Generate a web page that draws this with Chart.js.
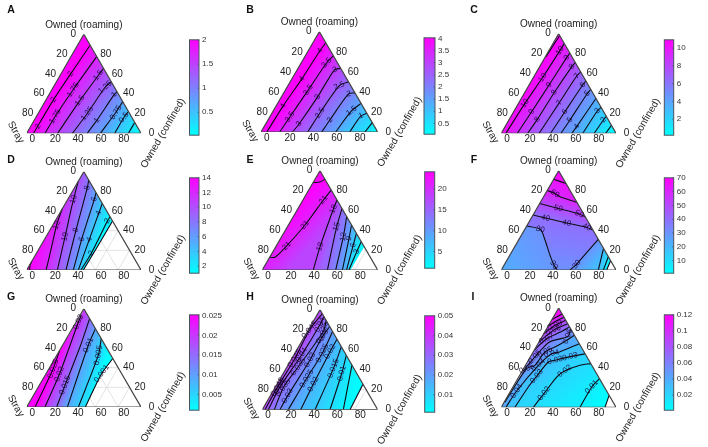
<!DOCTYPE html>
<html>
<head>
<meta charset="utf-8">
<script src="https://cdn.jsdelivr.net/npm/chart.js@4"></script>
<style>
html, body { margin: 0; padding: 0; background: #fff; width: 708px; height: 447px; overflow: hidden; }
#figure { position: relative; width: 708px; height: 447px; overflow: hidden; }
#figure canvas { position: absolute; }
</style>
</head>
<body>
<div id="figure"></div>
<script>
// every contour point is [owned confined, owned roaming] in percent, stray is what is left
const axisTicks = [0, 20, 40, 60, 80];

const levelsA = [2, 1.75, 1.5, 1.25, 1, 0.75, 0.5, 0.25];
const contoursA = [
  [[6, 0], [6.5, 34], [8.5, 60], [11, 89]],
  [[16, 0], [16.4, 17], [18.6, 44], [22.5, 77.5]],
  [[27, 0], [30, 33], [33.4, 58.6], [34.4, 65.6]],
  [[40, 0], [43, 20], [45.3, 46.5], [48, 52]],
  [[53, 0], [54.8, 13], [57, 39], [58, 42]],
  [[64.5, 0], [67.4, 21], [68, 32]],
  [[77, 0], [77, 16], [78, 22]],
  [[89, 0], [89, 11]]
];
const labelsA = [[0, 6.3, 7], [0, 6.5, 34], [0, 8.5, 60], [1, 16.4, 17], [1, 18.6, 44], [2, 30, 33], [2, 33.4, 58.6],
  [3, 43, 20], [3, 45.3, 46.5], [4, 54.8, 13], [4, 57, 39], [5, 67.4, 21], [6, 77, 16]];
const rangeA = [0.02, 2.01];
const colorTicksA = [0.5, 1, 1.5, 2];

const levelsB = [4, 3.5, 3, 2.5, 2, 1.5, 1, 0.5];
const contoursB = [
  [[5, 0], [6, 26], [8.5, 53], [10, 81], [11, 89]],
  [[16, 0], [17.2, 15], [19.6, 42], [21.8, 69], [24, 76]],
  [[27, 0], [28.6, 8], [31, 35], [32, 62], [36.5, 63.5]],
  [[40, 0], [41, 19], [44, 46], [50, 50]],
  [[52, 0], [53, 12], [56, 38], [61, 39]],
  [[64, 0], [67, 21], [71.5, 28.5]],
  [[76, 0], [77.6, 16], [81.4, 18.6]],
  [[89, 0], [90.7, 9.3]]
];
const labelsB = [[0, 6, 26], [0, 8.5, 53], [0, 10, 81], [1, 17.2, 15], [1, 19.6, 42], [1, 21.8, 69], [2, 28.6, 8], [2, 31, 35], [2, 32, 62],
  [3, 41, 19], [3, 44, 46], [4, 53, 12], [4, 56, 38], [5, 67, 21], [6, 77.6, 16]];
const rangeB = [0.05, 4.03];
const colorTicksB = [0.5, 1, 1.5, 2, 2.5, 3, 3.5, 4];

const levelsC = [11, 10, 9, 8, 7, 6, 5, 4, 3, 2, 1];
const contoursC = [
  [[0.5, 77], [1.8, 97.7]],
  [[4, 0], [5.6, 30], [8, 56], [9.6, 83], [9.8, 90]],
  [[14, 0], [15.6, 21.7], [17.4, 48.5], [19, 76], [19.5, 80.5]],
  [[23, 0], [24.4, 14], [25.7, 41], [28, 67], [29, 71]],
  [[33, 0], [35.2, 30.8], [37, 57.5], [38.5, 61.5]],
  [[43, 0], [44.6, 21.7], [46.7, 48.5], [47.5, 52.5]],
  [[52, 0], [53.2, 13.4], [55, 40], [56, 44]],
  [[61.5, 0], [62.4, 6.7], [65, 35]],
  [[71, 0], [72.5, 22.4], [74, 26]],
  [[81, 0], [82.3, 13.4], [83, 17]],
  [[91, 0], [92, 8]]
];
const labelsC = [[1, 5.6, 30], [1, 8, 56], [1, 9.6, 83], [2, 15.6, 21.7], [2, 17.4, 48.5], [2, 19, 76], [3, 24.4, 14], [3, 25.7, 41], [3, 28, 67],
  [4, 35.2, 30.8], [4, 37, 57.5], [5, 44.6, 21.7], [5, 46.7, 48.5], [6, 53.2, 13.4], [6, 55, 40], [7, 62.4, 6.7], [8, 72.5, 22.4], [9, 82.3, 13.4]];
const rangeC = [0.17, 10.95];
const colorTicksC = [2, 4, 6, 8, 10];

const levelsD = [14, 12, 10, 8, 6, 4, 2, 1.03];
const contoursD = [
  [[2.5, 0], [0.5, 5], [0, 9]],
  [[17, 0], [10, 23.7], [3.3, 45.8], [0, 62]],
  [[26.8, 0], [16.6, 33.9], [7.2, 64.4], [0, 90]],
  [[34.4, 0], [22.8, 40.7], [11.2, 83.7], [8.5, 91.5]],
  [[40.8, 0], [32.5, 31.2], [23.2, 71.9], [21.4, 78.6]],
  [[45.2, 0], [39.2, 31.2], [32.2, 67.8]],
  [[47.5, 0], [48, 17], [45.7, 49.8], [45.8, 54.2]],
  [[49.6, 0], [50, 25], [50.2, 49.8]]
];
const labelsD = [[1, 3.3, 45.8], [2, 16.6, 33.9], [2, 5, 72], [3, 22.8, 40.7], [3, 11.2, 83.7], [4, 32.5, 31.2], [4, 23.2, 71.9],
  [5, 39.2, 31.2], [5, 34, 58], [6, 48, 17], [6, 45.7, 49.8]];
const rangeD = [1.03, 14];
const colorTicksD = [2, 4, 6, 8, 10, 12, 14];

const levelsE = [24, 21, 18, 15, 12, 9, 6, 3];
const contoursE = [
  [[0, 88], [5.7, 88.6], [8.7, 91.3]],
  [[0, 12.8], [4.6, 12.8], [9, 24.2], [14.3, 45.3], [17.7, 70.5], [19.5, 80.5]],
  [[44.2, 0], [38.3, 23.5], [30.9, 61.4], [29.5, 70.5]],
  [[56.4, 0], [42.7, 43.6], [38.1, 61.9]],
  [[63.6, 0], [53.4, 33.6], [46.3, 53.7]],
  [[69.4, 0], [59.2, 31.9], [54.7, 45.3]],
  [[73, 0], [66.3, 25], [63.1, 36.9]],
  [[75.1, 0], [72.6, 18.5], [71.5, 28.5]]
];
const labelsE = [[1, 9, 24.2], [1, 14.3, 45.3], [1, 17.7, 70.5], [2, 38.3, 23.5], [2, 30.9, 61.4], [3, 42.7, 43.6], [4, 53.4, 33.6],
  [5, 59.2, 31.9], [6, 66.3, 25], [7, 72.6, 18.5]];
const edgeE = [[76.5, 0], [76.5, 23.5]];
const rangeE = [1.06, 24.1];
const colorTicksE = [5, 10, 15, 20];

const levelsF = [65, 60, 50, 40, 30, 30, 20, 10, 0.9];
const contoursF = [
  [[0, 91.3], [12.8, 87.2]],
  [[0, 80], [8.3, 77], [14.3, 73.8], [31.9, 68.1]],
  [[0, 67], [18.7, 62], [39.8, 56.4], [46.3, 53.7]],
  [[0, 55.4], [12.5, 52.3], [33.3, 47.3], [52.9, 43], [59.7, 40.3]],
  [[0, 44.3], [13.5, 41], [23, 30.2], [33.5, 16.8], [43.4, 5], [48.8, 0]],
  [[59.9, 0], [62.8, 5.7], [64.2, 11.7], [69.1, 30.9]],
  [[84.6, 0], [78.2, 21.8]],
  [[89, 0], [86.6, 13.4]],
  [[91.9, 0], [90.6, 9.4]]
];
const labelsF = [[1, 8.3, 77], [2, 18.7, 62], [2, 39.8, 56.4], [3, 12.5, 52.3], [3, 33.3, 47.3], [3, 52.9, 43], [4, 13.5, 41], [4, 43.4, 5], [5, 62.8, 5.7]];
const rangeF = [0.9, 70];
const colorTicksF = [10, 20, 30, 40, 50, 60, 70];

const levelsG = [0.025, 0.02, 0.015, 0.01, 0.005, 0.001];
const contoursG = [
  [[7.3, 0], [3.7, 39], [0, 57.8]],
  [[16, 0], [11.9, 33.4], [7.5, 57.8], [2, 86.5], [1, 94]],
  [[26.2, 0], [22.4, 22.3], [16.1, 61], [10.1, 89.9]],
  [[35.6, 0], [22.5, 62.8], [20.3, 79.7]],
  [[45.2, 0], [36.3, 52.7], [30.4, 69.6]],
  [[51.3, 0], [48.6, 34], [50.7, 49.3]]
];
const labelsG = [[0, 3.7, 39], [1, 11.9, 33.4], [1, 2, 86.5], [2, 22.4, 22.3], [3, 22.5, 62.8], [4, 36.3, 52.7], [5, 48.6, 34]];
const rangeG = [0.001, 0.0252];
const colorTicksG = [0.005, 0.01, 0.015, 0.02, 0.025];

const levelsH = [0.045, 0.04, 0.035, 0.03, 0.025, 0.02, 0.015, 0.01, 0.005, 0.00115];
const contoursH = [
  [[2.3, 0], [1.9, 22.8], [2.6, 51.3], [1, 80], [4, 96]],
  [[5.2, 0], [3.9, 22.8], [6.7, 54.7], [7.5, 84.9], [6.7, 93.3]],
  [[10.4, 0], [7.2, 22], [9.7, 43], [13.8, 78.2], [10.7, 89.3]],
  [[15.3, 0], [15, 13.8], [16.5, 49.7], [15.5, 73], [16.8, 83.2]],
  [[22.5, 0], [22.8, 31.2], [23.8, 56.4], [21.8, 78.2]],
  [[33.2, 0], [31.4, 25.5], [29.7, 58], [29.5, 70.5]],
  [[45.7, 0], [41, 41.3], [37, 63]],
  [[58.7, 0], [50.7, 36.2], [45.6, 54.4]],
  [[70.2, 0], [62.6, 22.8], [55.4, 44.6]],
  [[76, 0], [74.5, 25.5]]
];
const labelsH = [[0, 1, 80], [0, 2.6, 51.3], [0, 1.9, 22.8], [1, 7.5, 84.9], [1, 6.7, 54.7], [1, 3.9, 22.8], [2, 13.8, 78.2], [2, 9.7, 43], [2, 7.2, 22],
  [3, 15.5, 73], [3, 16.5, 49.7], [3, 15, 13.8], [4, 22.8, 31.2], [4, 23.8, 56.4], [5, 31.4, 25.5], [5, 29.7, 58], [6, 41, 41.3], [7, 50.7, 36.2]];
const rangeH = [0.00115, 0.05];
const colorTicksH = [0.01, 0.02, 0.03, 0.04, 0.05];
// the fill in this panel runs paler than its colour bar says
const fillRangeH = [0.00115, 0.065];

const levelsI = [0.11, 0.1, 0.09, 0.08, 0.07, 0.06, 0.05, 0.04, 0.03, 0.02, 0.01, 0.0011];
const contoursI = [
  [[0, 88.3], [6, 94]],
  [[0, 81.9], [4.6, 87.2], [9.4, 90.6]],
  [[0, 74], [5.5, 82.6], [12.4, 87.6]],
  [[0, 65.8], [6.5, 77.5], [15.8, 84.2]],
  [[0, 57.4], [5, 69], [13.3, 75.5], [19, 81]],
  [[0.7, 36.6], [4, 50.7], [9, 65.8], [22.4, 71.3], [21, 79]],
  [[0.5, 5], [2.6, 38.9], [8.2, 42.3], [10.2, 55.7], [18.5, 62.4], [27.5, 72.5]],
  [[4, 0], [5.2, 16.4], [11.2, 42.3], [16.9, 54], [23, 55.7], [35.9, 64.1]],
  [[11.9, 0], [13.3, 20.5], [15.2, 31.2], [18.2, 45.6], [23.1, 47.3], [34.4, 51], [46.2, 53.8]],
  [[27.9, 0], [30.3, 13.8], [33, 30.5], [36.9, 36.6], [47.5, 42.3], [56, 44]],
  [[68.6, 0], [68.6, 20.5], [71.1, 28.9]],
  [[90.4, 0], [88, 12]]
];
const labelsI = [[9, 30.3, 13.8], [9, 36.9, 36.6], [10, 68.6, 20.5], [8, 15.2, 31.2], [8, 23.1, 47.3], [8, 34.4, 51], [7, 5.2, 16.4], [7, 11.2, 42.3], [7, 16.9, 54],
  [6, 2.6, 38.9], [6, 10.2, 55.7], [5, 4, 50.7], [5, 22.4, 71.3], [4, 5, 69], [3, 6.5, 77.5], [2, 5.5, 82.6]];
const rangeI = [0.0011, 0.12];
const colorTicksI = [0.02, 0.04, 0.06, 0.08, 0.1, 0.12];

// one filled band runs from a contour at one level to the next contour at another level
function chain(levels, lines, capHigh, capLow) {
  const all = [];
  const seq = [];
  if (capHigh) seq.push(capHigh);
  lines.forEach((line, i) => seq.push({ line, level: levels[i] }));
  if (capLow) seq.push(capLow);
  for (let i = 0; i + 1 < seq.length; i++) all.push([seq[i], seq[i + 1]]);
  return all;
}
const leftEdge = [[0, 0], [0, 100]];
const cornerL = [[0, 0]], cornerR = [[100, 0]], cornerT = [[0, 100]];

const bandsF = [
  [{ line: cornerT, level: 70 }, { line: contoursF[0], level: 65 }],
  [{ line: contoursF[0], level: 65 }, { line: contoursF[1], level: 60 }],
  [{ line: contoursF[1], level: 60 }, { line: contoursF[2], level: 50 }],
  [{ line: contoursF[2], level: 50 }, { line: contoursF[3], level: 40 }],
  [{ line: contoursF[3], level: 40 }, { line: contoursF[4].concat(contoursF[5]), level: 31 }],
  [{ line: contoursF[4], level: 30 }, { line: cornerL, level: 23 }],
  [{ line: contoursF[5], level: 30 }, { line: contoursF[6], level: 20 }],
  [{ line: contoursF[6], level: 20 }, { line: contoursF[7], level: 10 }],
  [{ line: contoursF[7], level: 10 }, { line: contoursF[8], level: 0.9 }]
];

const panels = [
  { letter: 'A', letterX: 11, letterY: 10, tri: [26.7, 141, 133.3, 34.3], bar: [189.5, 199, 38, 137], levels: levelsA, lines: contoursA, labels: labelsA, range: rangeA, ticks: colorTicksA,
    bands: chain(levelsA, contoursA, { line: leftEdge, level: 2.01 }, { line: cornerR, level: 0.02 }) },
  { letter: 'B', letterX: 250, letterY: 10, tri: [261, 377.7, 132, 31.7], bar: [424, 435, 36, 135.7], levels: levelsB, lines: contoursB, labels: labelsB, range: rangeB, ticks: colorTicksB,
    bands: chain(levelsB, contoursB, { line: leftEdge, level: 4.03 }, { line: cornerR, level: 0.05 }) },
  { letter: 'C', letterX: 474, letterY: 10, tri: [501.3, 616, 133.3, 33.7], bar: [664.3, 673.7, 38.7, 136.7], levels: levelsC, lines: contoursC, labels: labelsC, range: rangeC, ticks: colorTicksC,
    bands: chain(levelsC, contoursC, null, { line: cornerR, level: 0.17 }).concat([[{ line: leftEdge, level: 10.95 }, { line: contoursC[1], level: 10 }]]) },
  { letter: 'D', letterX: 11, letterY: 160, tri: [26.7, 141, 270, 171.7], bar: [189.5, 199, 176, 274.3], levels: levelsD, lines: contoursD, labels: labelsD, range: rangeD, ticks: colorTicksD,
    bands: chain(levelsD, contoursD, { line: cornerL, level: 14 }, null) },
  { letter: 'E', letterX: 250, letterY: 160, tri: [262.3, 377.7, 270, 170.7], bar: [424.7, 434.7, 170.7, 270], levels: levelsE, lines: contoursE, labels: labelsE, range: rangeE, ticks: colorTicksE,
    bands: chain(levelsE, contoursE, { line: cornerT, level: 24.1 }, { line: edgeE, level: 1.06 }) },
  { letter: 'F', letterX: 474, letterY: 160, tri: [501.3, 616, 270, 170.7], bar: [664.3, 673.7, 176, 274.3], levels: levelsF, lines: contoursF, labels: labelsF, range: rangeF, ticks: colorTicksF,
    bands: bandsF },
  { letter: 'G', letterX: 11, letterY: 297, tri: [26.7, 141, 407, 308.7], bar: [189.5, 199, 313, 411.7], levels: levelsG, lines: contoursG, labels: labelsG, range: rangeG, ticks: colorTicksG,
    bands: chain(levelsG, contoursG, { line: cornerL, level: 0.0252 }, null) },
  { letter: 'H', letterX: 250, letterY: 297, tri: [262.3, 377.7, 409.7, 309.7], bar: [424.7, 434.7, 314.3, 413.7], levels: levelsH, lines: contoursH, labels: labelsH, range: rangeH, ticks: colorTicksH, fillRange: fillRangeH,
    bands: chain(levelsH, contoursH, { line: leftEdge, level: 0.05 }, null).concat([[{ line: cornerT, level: 0.065 }, { line: [[0, 90], [6, 94]], level: 0.05 }]]) },
  { letter: 'I', letterX: 473, letterY: 297, tri: [501.3, 616, 407.3, 308], bar: [664.3, 673.7, 313, 411.7], levels: levelsI, lines: contoursI, labels: labelsI, range: rangeI, ticks: colorTicksI,
    bands: chain(levelsI, contoursI, { line: cornerT, level: 0.12 }, null) }
];

Chart.defaults.font.family = '"Liberation Sans", Arial, sans-serif';
const figure = document.getElementById('figure');
const SQ = Math.sqrt(3) / 2;

function xy(p) { return { x: p[0] + p[1] / 2, y: p[1] * SQ }; }

function cool(v, range) {
  const t = Math.min(1, Math.max(0, (v - range[0]) / (range[1] - range[0])));
  return 'rgb(' + Math.round(255 * t) + ',' + Math.round(255 * (1 - t)) + ',255)';
}

// position of a point along the triangle edge: bottom 0-100, right 100-200, left 200-300
function edgePos(p) {
  const c = p[0], r = p[1], d = [r, 100 - c - r, c];
  const m = Math.min(d[0], d[1], d[2]);
  if (m === d[0]) return c;
  if (m === d[1]) return 100 + r;
  return 300 - r;
}
const corners = { 0: [0, 0], 100: [100, 0], 200: [0, 100], 300: [0, 0] };

function arc(a, b) {
  const ta = edgePos(a), tb = edgePos(b);
  const delta = ((tb - ta + 450) % 300) - 150;
  const out = [];
  const stops = [-200, -100, 0, 100, 200, 300, 400, 500];
  stops.filter(s => delta > 0 ? (s > ta && s < ta + delta) : (s < ta && s > ta + delta))
    .sort((u, v) => delta > 0 ? u - v : v - u)
    .forEach(s => out.push(corners[((s % 300) + 300) % 300]));
  return out;
}

function bandShape(a, b) {
  const ra = a.slice(), rb = b.slice().reverse();
  return ra.concat(arc(a[a.length - 1], b[b.length - 1]), rb, arc(b[0], a[0]));
}

function middle(line) {
  if (line.length % 2) return line[(line.length - 1) / 2];
  const p = line[line.length / 2 - 1], q = line[line.length / 2];
  return [(p[0] + q[0]) / 2, (p[1] + q[1]) / 2];
}

// gradient across one band, at right angles to the longer of its two contours
function bandFill(ctx, band, range) {
  const chart = ctx.chart;
  if (!chart.chartArea) return cool(band[0].level, range);
  const sx = chart.scales.x, sy = chart.scales.y;
  const px = p => { const q = xy(p); return [sx.getPixelForValue(q.x), sy.getPixelForValue(q.y)]; };
  const chord = l => { const u = px(l[0]), v = px(l[l.length - 1]); return [v[0] - u[0], v[1] - u[1]]; };
  const ca = chord(band[0].line), cb = chord(band[1].line);
  const c = Math.hypot(ca[0], ca[1]) > Math.hypot(cb[0], cb[1]) ? ca : cb;
  const len = Math.hypot(c[0], c[1]) || 1;
  const n = [-c[1] / len, c[0] / len];
  const ma = px(middle(band[0].line)), mb = px(middle(band[1].line));
  const d = (mb[0] - ma[0]) * n[0] + (mb[1] - ma[1]) * n[1];
  const g = chart.ctx.createLinearGradient(ma[0], ma[1], ma[0] + n[0] * d, ma[1] + n[1] * d);
  g.addColorStop(0, cool(band[0].level, range));
  g.addColorStop(1, cool(band[1].level, range));
  return g;
}

function lineAngle(line, c, r, toPx) {
  let best = 0, bestD = Infinity;
  for (let i = 0; i + 1 < line.length; i++) {
    const m = [(line[i][0] + line[i + 1][0]) / 2, (line[i][1] + line[i + 1][1]) / 2];
    const d = Math.hypot(m[0] - c, m[1] - r);
    if (d < bestD) { bestD = d; best = i; }
  }
  const u = toPx(line[best]), v = toPx(line[best + 1]);
  let ang = Math.atan2(v[1] - u[1], v[0] - u[0]);
  if (ang > Math.PI / 2) ang -= Math.PI;
  if (ang < -Math.PI / 2) ang += Math.PI;
  return ang;
}

function drawTernary(p) {
  const [xL, xR, yB, yT] = p.tri;
  const box = { left: Math.min(Math.floor(xL) - 30, p.letterX - 8), top: Math.min(Math.floor(yT) - 20, p.letterY - 8) };
  const cv = document.createElement('canvas');
  cv.width = Math.ceil(xR - box.left) + 50;
  cv.height = Math.ceil(yB - box.top) + 42;
  cv.style.left = box.left + 'px';
  cv.style.top = box.top + 'px';
  figure.appendChild(cv);

  const fillRange = p.fillRange || p.range;
  const datasets = [];
  const lineStyle = { showLine: true, pointRadius: 0, pointHoverRadius: 0, fill: false };
  axisTicks.slice(1).forEach(v => {
    [[[v, 0], [v, 100 - v]], [[0, v], [100 - v, v]], [[100 - v, 0], [0, 100 - v]]].forEach(seg => {
      datasets.push(Object.assign({}, lineStyle, { data: seg.map(xy), borderColor: '#dcdcdc', borderWidth: 0.8, order: 4 }));
    });
  });
  p.bands.forEach(band => {
    datasets.push(Object.assign({}, lineStyle, {
      data: bandShape(band[0].line, band[1].line).map(xy),
      borderWidth: 0,
      borderColor: 'rgba(0,0,0,0)',
      fill: 'shape',
      backgroundColor: ctx => bandFill(ctx, band, fillRange),
      order: 3
    }));
  });
  p.lines.forEach(line => {
    datasets.push(Object.assign({}, lineStyle, { data: line.map(xy), borderColor: '#0a0a14', borderWidth: 1.1, tension: 0.25, order: 2 }));
  });
  datasets.push(Object.assign({}, lineStyle, {
    data: [[0, 0], [100, 0], [0, 100], [0, 0]].map(xy), borderColor: '#444', borderWidth: 1.2, order: 1
  }));

  const textPlugin = {
    id: 'ternaryText',
    afterDraw(chart) {
      const g = chart.ctx, sx = chart.scales.x, sy = chart.scales.y;
      const toPx = q => { const o = xy(q); return [sx.getPixelForValue(o.x), sy.getPixelForValue(o.y)]; };
      const put = (text, x, y, rot) => {
        g.save(); g.translate(x, y); g.rotate(rot || 0); g.fillText(text, 0, 0); g.restore();
      };
      g.save();
      g.textAlign = 'center';
      g.textBaseline = 'middle';

      g.font = '8px "Liberation Sans"';
      g.fillStyle = 'rgba(25,0,45,0.85)';
      p.labels.forEach(l => {
        const pos = toPx([l[1], l[2]]);
        put(String(p.levels[l[0]]), pos[0], pos[1], lineAngle(p.lines[l[0]], l[1], l[2], toPx));
      });

      g.font = '10px "Liberation Sans"';
      g.fillStyle = '#222';
      axisTicks.forEach(v => {
        let q = toPx([0, 100 - v]);
        put(String(v), q[0] - 10.5, q[1]);
        q = toPx([100 - v, v]);
        put(String(v), q[0] + 10.5, q[1]);
        q = toPx([v, 0]);
        put(String(v), q[0] + 5.7, q[1] + 6);
      });
      const top = toPx([0, 100]), left = toPx([0, 0]), right = toPx([100, 0]);
      put('Owned (roaming)', top[0], top[1] - 9.5);
      put('Stray', left[0] - 11, left[1] - 1, Math.PI / 3);
      put('Owned (confined)', right[0] + 22, right[1], -Math.PI / 3);

      g.font = 'bold 10.5px "Liberation Sans"';
      g.fillStyle = '#111';
      put(p.letter, p.letterX - box.left, p.letterY - box.top);
      g.restore();
    }
  };

  new Chart(cv, {
    type: 'scatter',
    data: { datasets },
    plugins: [textPlugin],
    options: {
      responsive: false,
      animation: false,
      events: [],
      layout: { padding: { left: xL - box.left, top: yT - box.top, right: cv.width - (xR - box.left), bottom: cv.height - (yB - box.top) } },
      plugins: { legend: { display: false }, tooltip: { enabled: false } },
      scales: {
        x: { type: 'linear', min: 0, max: 100, display: false },
        y: { type: 'linear', min: 0, max: 100 * SQ, display: false }
      }
    }
  });
}

function drawColorbar(p) {
  const [x0, x1, y0, y1] = p.bar;
  const left = Math.floor(x0) - 1, top = Math.floor(y0) - 6;
  const cv = document.createElement('canvas');
  cv.width = Math.ceil(x1 - left) + 34;
  cv.height = Math.ceil(y1 - top) + 6;
  cv.style.left = left + 'px';
  cv.style.top = top + 'px';
  figure.appendChild(cv);
  const framePlugin = {
    id: 'barFrame',
    afterDatasetsDraw(chart) {
      const g = chart.ctx, a = chart.chartArea, sy = chart.scales.y;
      g.save();
      g.strokeStyle = '#48525c';
      g.lineWidth = 1;
      g.strokeRect(a.left, a.top, a.right - a.left, a.bottom - a.top);
      g.lineWidth = 0.7;
      p.ticks.forEach(v => {
        const y = sy.getPixelForValue(v);
        g.beginPath();
        g.moveTo(a.right - 1.5, y);
        g.lineTo(a.right, y);
        g.stroke();
      });
      g.restore();
    }
  };
  new Chart(cv, {
    type: 'bar',
    data: {
      labels: [''],
      datasets: [{
        data: [[p.range[0], p.range[1]]],
        barPercentage: 1,
        categoryPercentage: 1,
        borderWidth: 0,
        backgroundColor: ctx => {
          const area = ctx.chart.chartArea;
          if (!area) return '#fff';
          const g = ctx.chart.ctx.createLinearGradient(0, area.bottom, 0, area.top);
          g.addColorStop(0, 'rgb(0,255,255)');
          g.addColorStop(1, 'rgb(255,0,255)');
          return g;
        }
      }]
    },
    plugins: [framePlugin],
    options: {
      responsive: false,
      animation: false,
      events: [],
      layout: { padding: { left: x0 - left, top: y0 - top, bottom: cv.height - (y1 - top), right: 0 } },
      plugins: { legend: { display: false }, tooltip: { enabled: false } },
      scales: {
        x: { display: false },
        y: {
          position: 'right',
          min: p.range[0],
          max: p.range[1],
          border: { display: false },
          grid: { display: false, drawTicks: false },
          ticks: { autoSkip: false, padding: 3, color: '#333', font: { size: 8 }, callback: v => String(v) },
          afterBuildTicks: axis => { axis.ticks = p.ticks.map(value => ({ value })); },
          afterFit: axis => { axis.width = cv.width - (x1 - left); }
        }
      }
    }
  });
}

panels.forEach(p => { drawTernary(p); drawColorbar(p); });
</script>
</body>
</html>
